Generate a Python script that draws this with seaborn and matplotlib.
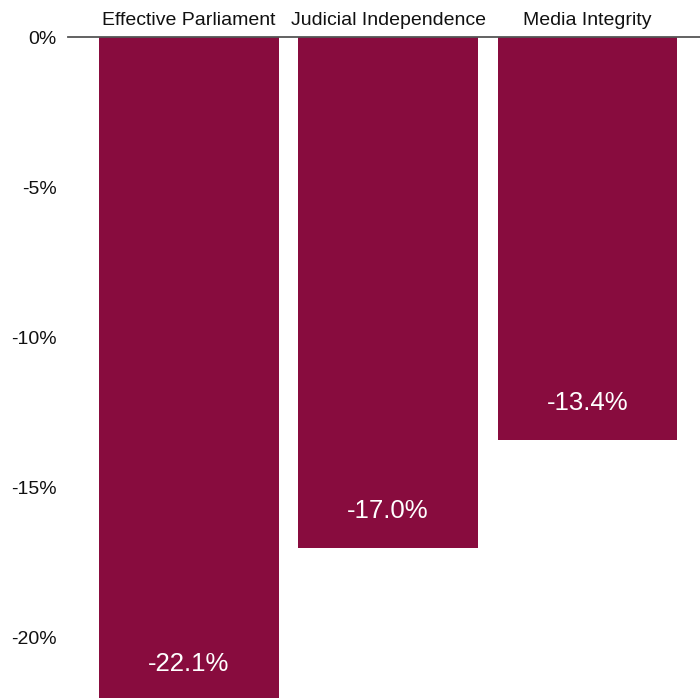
import matplotlib
matplotlib.use("Agg")
import matplotlib.pyplot as plt
import matplotlib.transforms as mtransforms
import seaborn as sns
import pandas as pd

categories = ["Effective Parliament", "Judicial Independence", "Media Integrity"]
changes = [-22.1, -17.0, -13.4]
y_ticks = [0, -5, -10, -15, -20]
y_tick_labels = ["0%", "-5%", "-10%", "-15%", "-20%"]

bar_color = "#880c3e"

sns.set_theme(style="white")
plt.rcParams["font.family"] = ["Liberation Sans", "DejaVu Sans"]

df = pd.DataFrame({"category": categories, "change": changes})

fig = plt.figure(figsize=(7.0, 6.98), dpi=100)
ax = fig.add_axes([68 / 700, 0.0, 632 / 700, (698 - 37) / 698])

sns.barplot(data=df, x="category", y="change", order=categories,
            color=bar_color, saturation=1, width=0.9, linewidth=0, ax=ax)

ax.set_xlim(-0.606, 2.564)
ax.set_ylim(-22.0, 0)

ax.set_yticks(y_ticks)
ax.set_yticklabels(y_tick_labels)
ax.tick_params(axis="y", length=0, pad=8, labelsize=14, labelcolor="#111111")

ax.xaxis.tick_top()
ax.tick_params(axis="x", length=0, pad=6, labelsize=14, labelcolor="#111111")
ax.set_xlabel("")
ax.set_ylabel("")

for side in ["left", "right", "bottom"]:
    ax.spines[side].set_visible(False)
ax.spines["top"].set_color("#555555")
ax.spines["top"].set_linewidth(1.3)
ax.spines["top"].set_zorder(5)

# value labels sit a fixed distance above each bar's end
offset = mtransforms.offset_copy(ax.transData, fig=fig, x=0, y=26.5, units="points")
for i, v in enumerate(changes):
    ax.text(i, v, f"{v:.1f}%", transform=offset, ha="center", va="center",
            color="white", fontsize=18.5, clip_on=False)

fig.savefig("out.png", dpi=100)
